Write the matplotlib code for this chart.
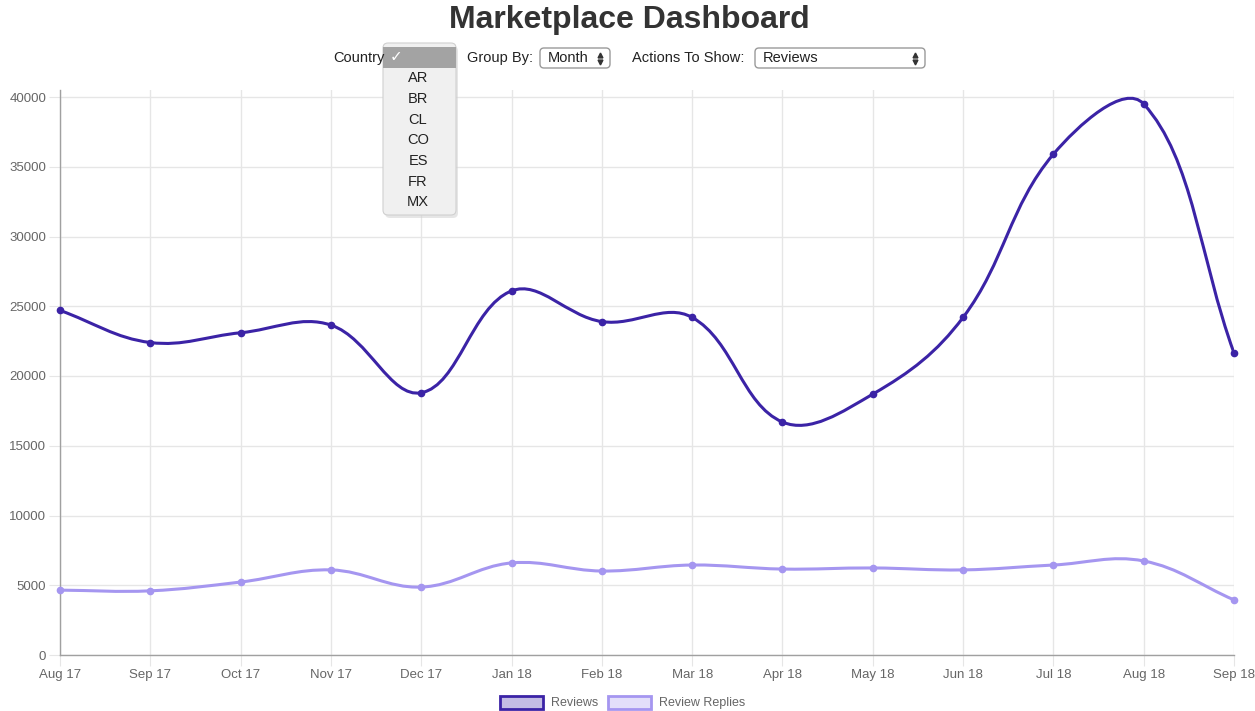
import numpy as np
import matplotlib
matplotlib.use('Agg')
import matplotlib.pyplot as plt
from matplotlib.path import Path
from matplotlib.patches import PathPatch, FancyBboxPatch, Rectangle

plt.rcParams['font.family'] = ['Liberation Sans', 'DejaVu Sans']

# data
months = ['Aug 17', 'Sep 17', 'Oct 17', 'Nov 17', 'Dec 17', 'Jan 18', 'Feb 18',
          'Mar 18', 'Apr 18', 'May 18', 'Jun 18', 'Jul 18', 'Aug 18', 'Sep 18']
reviews = [24700, 22400, 23100, 23650, 18800, 26100, 23900,
           24200, 16700, 18700, 24200, 35900, 39500, 21650]
review_replies = [4650, 4600, 5230, 6100, 4870, 6600, 6020,
                  6450, 6160, 6240, 6100, 6450, 6740, 3950]
countries = ['AR', 'BR', 'CL', 'CO', 'ES', 'FR', 'MX']
y_ticks = list(range(0, 40001, 5000))

c_rev = '#3b23a6'
c_rep = '#a596f0'

W, H = 1255, 711
fig = plt.figure(figsize=(W / 100, H / 100), dpi=100)
# chart area runs a few px above the 40000 line, like the original
ax = fig.add_axes([60 / W, 1 - 655 / H, (1234 - 60) / W, (655 - 90) / H])
x = np.arange(len(months))
ax.set_xlim(0, len(months) - 1)
ax.set_ylim(0, 40000 * 565 / 558)


def chartjs_spline(ax, xs, ys, tension=0.38):
    # control points like Chart.js (computed in pixel space)
    pts = ax.transData.transform(np.column_stack([xs, ys]))
    n = len(pts)
    verts = [pts[0]]
    codes = [Path.MOVETO]
    cps = []
    for i in range(n):
        prev = pts[i - 1] if i > 0 else pts[i]
        cur = pts[i]
        nxt = pts[i + 1] if i < n - 1 else pts[i]
        d01 = np.hypot(*(cur - prev))
        d12 = np.hypot(*(nxt - cur))
        tot = d01 + d12
        s01 = d01 / tot if tot else 0
        s12 = d12 / tot if tot else 0
        cps.append((cur - tension * s01 * (nxt - prev), cur + tension * s12 * (nxt - prev)))
    for i in range(n - 1):
        verts += [cps[i][1], cps[i + 1][0], pts[i + 1]]
        codes += [Path.CURVE4] * 3
    verts = ax.transData.inverted().transform(np.array(verts))
    return Path(verts, codes)


for vals, col in [(review_replies, c_rep), (reviews, c_rev)]:
    p = chartjs_spline(ax, x, vals)
    ax.add_patch(PathPatch(p, facecolor='none', edgecolor=col, lw=2.2, zorder=3))
    ax.plot(x, vals, 'o', color=col, ms=4.5, zorder=4, clip_on=False)

ax.set_xticks(x)
ax.set_xticklabels(months)
ax.set_yticks(y_ticks)
ax.grid(True, color='#e6e6e6', lw=1)
ax.set_axisbelow(True)
for s in ['top', 'right']:
    ax.spines[s].set_visible(False)
for s in ['left', 'bottom']:
    ax.spines[s].set_color('#a0a0a0')
    ax.spines[s].set_linewidth(1)
ax.tick_params(axis='x', length=8, color='#e6e6e6', labelsize=9.5, labelcolor='#666666', pad=2)
ax.tick_params(axis='y', length=8, color='#e6e6e6', labelsize=9.5, labelcolor='#666666', pad=2)

# overlay for page elements
ov = fig.add_axes([0, 0, 1, 1], zorder=10)
ov.set_xlim(0, W)
ov.set_ylim(H, 0)
ov.axis('off')
ov.patch.set_alpha(0)

ov.text(629, 20, 'Marketplace Dashboard', ha='center', va='center',
        fontsize=23, fontweight='bold', color='#333333')

lab = dict(va='center', fontsize=10.5, color='#222222')
ov.text(333, 58, 'Country', ha='left', **lab)
ov.text(467, 58, 'Group By:', ha='left', **lab)
ov.text(632, 58, 'Actions To Show:', ha='left', **lab)


def select_box(x0, x1, label):
    ov.add_patch(FancyBboxPatch((x0, 48), x1 - x0, 20, boxstyle='round,pad=0,rounding_size=4',
                                fc='white', ec='#9a9a9a', lw=1))
    ov.text(x0 + 8, 58, label, ha='left', **lab)
    ov.plot([x1 - 10], [55], marker='^', color='#333333', ms=3.5)
    ov.plot([x1 - 10], [61.5], marker='v', color='#333333', ms=3.5)


select_box(540, 610, 'Month')
select_box(755, 925, 'Reviews')

# dropdown menu
ov.add_patch(FancyBboxPatch((385, 46), 73, 172, boxstyle='round,pad=0,rounding_size=5',
                            fc='#cfcfcf', ec='none', alpha=0.5))
ov.add_patch(FancyBboxPatch((383, 43), 73, 172, boxstyle='round,pad=0,rounding_size=5',
                            fc='#f0f0f0', ec='#d0d0d0', lw=0.8))
ov.add_patch(Rectangle((383, 47), 73, 21, fc='#a3a3a3', ec='none'))
ov.text(390, 57, '✓', ha='left', va='center', fontsize=11, color='white',
        family=['DejaVu Sans'])
for i, c in enumerate(countries):
    ov.text(418, 78.5 + i * 20.6, c, ha='center', va='center', fontsize=10.5, color='#222222')

# legend
leg_items = [('Reviews', c_rev, 500), ('Review Replies', c_rep, 608)]
for name, col, lx in leg_items:
    ov.add_patch(Rectangle((lx, 696), 43, 13, fc=col, alpha=0.3, ec='none'))
    ov.add_patch(Rectangle((lx, 696), 43, 13, fc='none', ec=col, lw=2))
    ov.text(lx + 51, 703, name, ha='left', va='center', fontsize=9, color='#666666')

fig.savefig('out.png', dpi=100)
